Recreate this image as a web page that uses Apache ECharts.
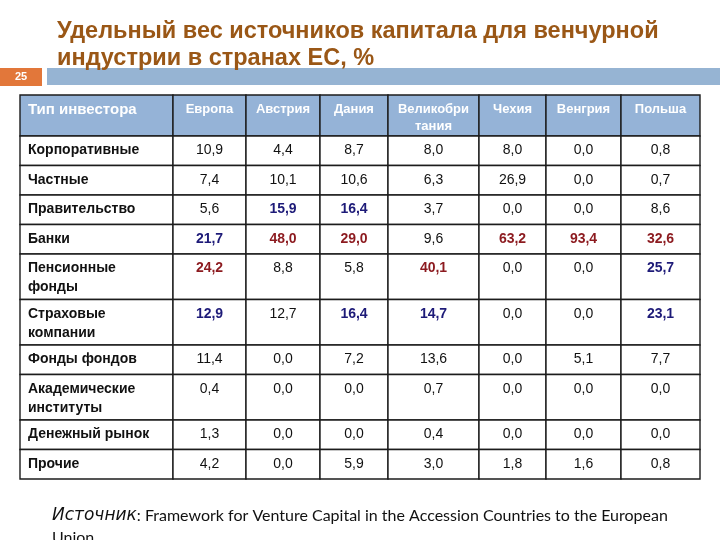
<!DOCTYPE html>
<html><head><meta charset="utf-8">
<script src="https://cdn.jsdelivr.net/npm/echarts@6/dist/echarts.min.js"></script>
<style>html,body{margin:0;padding:0;background:#fff}#c{width:720px;height:540px}</style>
</head><body><div id="c"></div>
<script>
// ---- data ----
const titleText = 'Удельный вес источников капитала для венчурной\nиндустрии в странах ЕС, %';
const slideNumber = '25';
const cornerHeader = 'Тип инвестора';
const countries = ['Европа', 'Австрия', 'Дания', 'Великобри\nтания', 'Чехия', 'Венгрия', 'Польша'];
const investorTypes = ['Корпоративные', 'Частные', 'Правительство', 'Банки', 'Пенсионные\nфонды',
  'Страховые\nкомпании', 'Фонды фондов', 'Академические\nинституты', 'Денежный рынок', 'Прочие'];
const europe  = [10.9, 7.4, 5.6, 21.7, 24.2, 12.9, 11.4, 0.4, 1.3, 4.2];
const austria = [4.4, 10.1, 15.9, 48.0, 8.8, 12.7, 0.0, 0.0, 0.0, 0.0];
const denmark = [8.7, 10.6, 16.4, 29.0, 5.8, 16.4, 7.2, 0.0, 0.0, 5.9];
const uk      = [8.0, 6.3, 3.7, 9.6, 40.1, 14.7, 13.6, 0.7, 0.4, 3.0];
const czech   = [8.0, 26.9, 0.0, 63.2, 0.0, 0.0, 0.0, 0.0, 0.0, 1.8];
const hungary = [0.0, 0.0, 0.0, 93.4, 0.0, 0.0, 5.1, 0.0, 0.0, 1.6];
const poland  = [0.8, 0.7, 8.6, 32.6, 25.7, 23.1, 7.7, 0.0, 0.0, 0.8];
// highlight level of each value in the source table: 0 = plain, 1 = marked (blue), 2 = strongly marked (red)
const europeMark  = [0, 0, 0, 1, 2, 1, 0, 0, 0, 0];
const austriaMark = [0, 0, 1, 2, 0, 0, 0, 0, 0, 0];
const denmarkMark = [0, 0, 1, 2, 0, 1, 0, 0, 0, 0];
const ukMark      = [0, 0, 0, 0, 2, 1, 0, 0, 0, 0];
const czechMark   = [0, 0, 0, 2, 0, 0, 0, 0, 0, 0];
const hungaryMark = [0, 0, 0, 2, 0, 0, 0, 0, 0, 0];
const polandMark  = [0, 0, 0, 2, 1, 1, 0, 0, 0, 0];
const sourceLabel = 'Источник';
const sourceText = ': Framework for Venture Capital in the Accession Countries to the European\nUnion';

// ---- layout ----
const countryValues = [europe, austria, denmark, uk, czech, hungary, poland];
const countryMarks = [europeMark, austriaMark, denmarkMark, ukMark, czechMark, hungaryMark, polandMark];
const colWidths = [153, 73, 74, 68, 91, 67, 75, 79];
const xEdges = [0];
colWidths.forEach(w => xEdges.push(xEdges[xEdges.length - 1] + w));
const rowHeights = [41].concat(investorTypes.map(t => t.indexOf('\n') >= 0 ? 45.5 : 29.5));
const yEdges = [0];
rowHeights.forEach(h => yEdges.push(yEdges[yEdges.length - 1] + h));
const totalW = xEdges[xEdges.length - 1];
const totalH = yEdges[yEdges.length - 1];

const HEADER_FILL = '#95b3d7';
const BORDER = '#1c1c1c';
const markColors = ['#111111', '#1d1a78', '#8c1a1f'];
const fmt = v => v.toFixed(1).replace('.', ',');

function cellRender(params, api) {
  const c = api.value(0), r = api.value(1);
  const p0 = api.coord([xEdges[c], yEdges[r]]);
  const p1 = api.coord([xEdges[c + 1], yEdges[r + 1]]);
  const x = p0[0], y = p0[1], w = p1[0] - p0[0], h = p1[1] - p0[1];
  const d = params.dataIndex;
  const item = cellItems[params.seriesIndex][d];
  const isHeader = r === 0;
  const children = [{
    type: 'rect',
    shape: { x: x, y: y, width: w, height: h },
    style: { fill: isHeader ? HEADER_FILL : '#ffffff', stroke: BORDER, lineWidth: 1.4 }
  }];
  let style;
  if (isHeader) {
    const corner = c === 0;
    style = {
      text: item.text,
      x: corner ? x + 8 : x + w / 2, y: y + (corner ? 5 : 6),
      align: corner ? 'left' : 'center', verticalAlign: 'top',
      fill: '#ffffff', lineHeight: corner ? 20 : 17,
      font: corner ? 'bold 15px "Liberation Sans", Arial, sans-serif' : 'bold 13px "Liberation Sans", Arial, sans-serif'
    };
  } else if (c === 0) {
    style = {
      text: item.text, x: x + 8, y: y + 5, align: 'left', verticalAlign: 'top',
      fill: '#111111', lineHeight: 19,
      font: 'bold 14px "Liberation Sans", Arial, sans-serif'
    };
  } else {
    const m = item.mark;
    style = {
      text: item.text, x: x + w / 2, y: y + 5, align: 'center', verticalAlign: 'top',
      fill: markColors[m], lineHeight: 19,
      font: (m ? 'bold ' : '') + '14px "Liberation Sans", Arial, sans-serif'
    };
  }
  children.push({ type: 'text', style: style });
  return { type: 'group', children: children };
}

// build cell items per series
const cellItems = [];
const series = [];
function addSeries(name, items) {
  cellItems.push(items);
  series.push({
    type: 'custom', name: name, coordinateSystem: 'cartesian2d', clip: false,
    renderItem: cellRender, silent: true,
    encode: { x: 0, y: 1 },
    data: items.map(it => [it.c, it.r])
  });
}
// header row
addSeries('header', [{ c: 0, r: 0, text: cornerHeader }].concat(countries.map((n, i) => ({ c: i + 1, r: 0, text: n }))));
// investor labels
addSeries('labels', investorTypes.map((t, i) => ({ c: 0, r: i + 1, text: t })));
// values for each country
countryValues.forEach((vals, k) => {
  addSeries(countries[k], vals.map((v, i) => ({ c: k + 1, r: i + 1, text: fmt(v), mark: countryMarks[k][i] })));
});

const chart = echarts.init(document.getElementById('c'), null, { renderer: 'canvas' });
chart.setOption({
  backgroundColor: '#ffffff',
  animation: false,
  title: {
    text: titleText, left: 52, top: 13, padding: 5,
    textStyle: { fontFamily: '"Liberation Sans", Arial, sans-serif', fontSize: 23.5, fontWeight: 'bold', color: '#9a5716', lineHeight: 27 }
  },
  grid: { left: 20, top: 95, width: totalW, height: totalH },
  xAxis: { type: 'value', min: 0, max: totalW, show: false },
  yAxis: { type: 'value', min: 0, max: totalH, inverse: true, show: false },
  graphic: [
    { type: 'rect', shape: { x: 0, y: 68, width: 42, height: 18 }, style: { fill: '#e2773a' } },
    { type: 'text', style: { text: slideNumber, x: 21, y: 77, align: 'center', verticalAlign: 'middle', fill: '#ffffff', font: 'bold 11px "Liberation Sans", Arial, sans-serif' } },
    { type: 'rect', shape: { x: 47, y: 68, width: 673, height: 17 }, style: { fill: '#96b4d3' } },
    { type: 'text', style: {
        text: '{i|' + sourceLabel + '}' + sourceText, x: 52, y: 505,
        fill: '#111111', font: '16px Lato, sans-serif', lineHeight: 22,
        rich: { i: { fontStyle: 'italic', fontSize: 17, fontFamily: '"DejaVu Sans", sans-serif' } }
    } }
  ],
  series: series
});
</script>
</body></html>
